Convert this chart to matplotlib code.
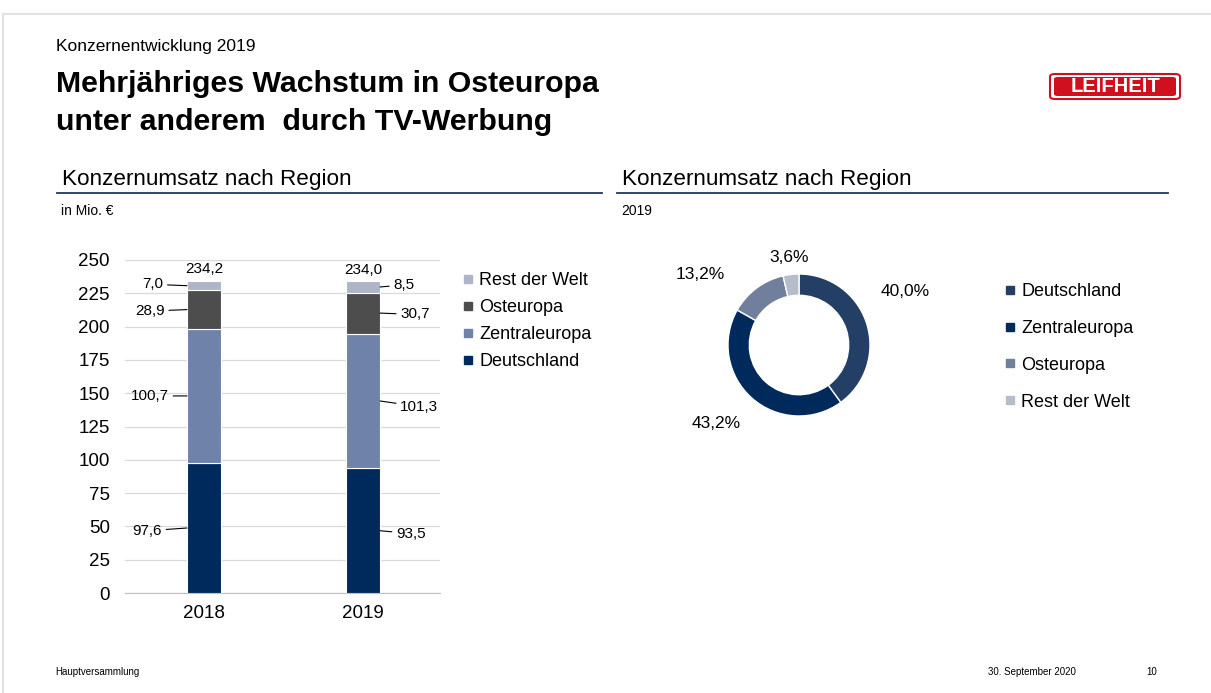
import numpy as np
import matplotlib.pyplot as plt
from matplotlib.lines import Line2D
from matplotlib.patches import FancyBboxPatch

plt.rcParams['font.family'] = ['Liberation Sans', 'DejaVu Sans']

# data
years = ['2018', '2019']
deutschland = [97.6, 93.5]
zentraleuropa = [100.7, 101.3]
osteuropa = [28.9, 30.7]
rest_welt = [7.0, 8.5]
totals = ['234,2', '234,0']

pie_labels = ['Deutschland', 'Zentraleuropa', 'Osteuropa', 'Rest der Welt']
pie_values = [40.0, 43.2, 13.2, 3.6]

bar_colors = {'Deutschland': '#002A5C', 'Zentraleuropa': '#6F82AA',
              'Osteuropa': '#4D4D4D', 'Rest der Welt': '#AEB5C8'}
pie_colors = ['#243F66', '#002A5C', '#6F7F9C', '#B6BCCA']

W, H = 1211, 693
fig = plt.figure(figsize=(W / 100, H / 100), dpi=100)

def fx(px):
    return px / W

def fy(py):
    return 1 - py / H

# slide frame
fig.add_artist(Line2D([fx(3), 1], [fy(14), fy(14)], color='#E3E3E3', lw=1.5))
fig.add_artist(Line2D([fx(3), fx(3)], [fy(14), 0], color='#E3E3E3', lw=1.5))

# titles
fig.text(fx(56), fy(46), 'Konzernentwicklung 2019', fontsize=12.5, va='center')
fig.text(fx(56), fy(84), 'Mehrjähriges Wachstum in Osteuropa', fontsize=21.8,
         fontweight='bold', va='center')
fig.text(fx(56), fy(122), 'unter anderem  durch TV-Werbung', fontsize=21.8,
         fontweight='bold', va='center')

for x0, x1, sub in [(57, 602, 'in Mio. €'), (617, 1168, '2019')]:
    fig.text(fx(x0 + 5), fy(179), 'Konzernumsatz nach Region', fontsize=16.2, va='center')
    fig.add_artist(Line2D([fx(x0), fx(x1)], [fy(193), fy(193)], color='#1F3864', lw=1.3))
    fig.text(fx(x0 + 4), fy(211), sub, fontsize=10, va='center')

# footer
fig.text(fx(55), fy(672), 'Hauptversammlung', fontsize=7, va='center')
fig.text(fx(988), fy(672), '30. September 2020', fontsize=7, va='center')
fig.text(fx(1146), fy(672), '10', fontsize=7, va='center')

# logo
red = '#D0101E'
fig.add_artist(FancyBboxPatch((fx(1050), fy(99)), fx(130), 25 / H,
                              boxstyle='round,pad=0,rounding_size=0.004',
                              fc='white', ec=red, lw=1.5, transform=fig.transFigure))
fig.add_artist(FancyBboxPatch((fx(1054), fy(96)), fx(122), 19 / H,
                              boxstyle='round,pad=0,rounding_size=0.003',
                              fc=red, ec='none', transform=fig.transFigure))
fig.text(fx(1115), fy(86.5), 'LEIFHEIT', color='white', fontsize=14.5,
         fontweight='heavy', ha='center', va='center')

# stacked bars
ax = fig.add_axes([fx(125), fy(593), fx(440) - fx(125), fy(260) - fy(593)])
x = np.arange(len(years))
bw = 0.214
series = [('Deutschland', deutschland), ('Zentraleuropa', zentraleuropa),
          ('Osteuropa', osteuropa), ('Rest der Welt', rest_welt)]
# leader line offsets (points) per segment: 2018 to the left, 2019 to the right
label_dx = [[-18, 11.5], [-13, 14.5], [-16, 14.5], [-17, 9.5]]
label_dy = [[-2, -2], [0, -4], [-1, -1], [1, 1.5]]
bottom = np.zeros(len(years))
for k, (name, vals) in enumerate(series):
    vals = np.array(vals)
    ax.bar(x, vals, bw, bottom=bottom, color=bar_colors[name],
           edgecolor='white', linewidth=0.8, zorder=3)
    for i in range(len(years)):
        mid = bottom[i] + vals[i] / 2
        dx = label_dx[k][i]
        edge = x[i] + np.sign(dx) * bw / 2
        txt = f'{vals[i]:.1f}'.replace('.', ',')
        ax.annotate(txt, xy=(edge, mid), xytext=(dx, label_dy[k][i]),
                    textcoords='offset points', ha='right' if dx < 0 else 'left',
                    va='center', fontsize=11,
                    arrowprops=dict(arrowstyle='-', color='black', lw=0.8,
                                    shrinkA=1, shrinkB=0))
    bottom += vals
for i in range(len(years)):
    ax.text(x[i], bottom[i] + 3.5, totals[i], ha='center', va='bottom', fontsize=11)

ax.set_ylim(0, 250)
ax.set_xlim(-0.497, 1.484)
ax.set_yticks(np.arange(0, 251, 25))
ax.set_xticks(x, years)
ax.tick_params(length=0, labelsize=13.5)
ax.tick_params(axis='x', pad=9)
ax.tick_params(axis='y', pad=11)
ax.grid(axis='y', color='#D9D9D9', lw=0.9, zorder=0)
for s in ['top', 'right', 'left']:
    ax.spines[s].set_visible(False)
ax.spines['bottom'].set_color('#BFBFBF')

handles = [Line2D([], [], marker='s', ls='', ms=6, color=bar_colors[n])
           for n, _ in reversed(series)]
fig.legend(handles, [n for n, _ in reversed(series)], loc='upper left',
           bbox_to_anchor=(fx(462), fy(272)), frameon=False, fontsize=13,
           handlelength=0.7, handletextpad=0.25, labelspacing=0.56, borderpad=0,
           borderaxespad=0)

# donut
r = 71
pax = fig.add_axes([fx(799 - r), fy(345 + r), 2 * r / W, 2 * r / H])
wedges, _ = pax.pie(pie_values, colors=pie_colors, startangle=90, counterclock=False,
                    radius=1, wedgeprops=dict(width=0.3, edgecolor='white', linewidth=1))
pax.set_xlim(-1, 1)
pax.set_ylim(-1, 1)
label_pos = [(1.49, 0.75), (-1.17, -1.10), (-1.39, 0.99), (-0.14, 1.23)]
for v, (lx, ly) in zip(pie_values, label_pos):
    pax.text(lx, ly, f'{v:.1f}%'.replace('.', ','), ha='center', va='center',
             fontsize=12.5, clip_on=False)

phandles = [Line2D([], [], marker='s', ls='', ms=6, color=c) for c in pie_colors]
fig.legend(phandles, pie_labels, loc='upper left',
           bbox_to_anchor=(fx(1004), fy(283)), frameon=False, fontsize=13,
           handlelength=0.7, handletextpad=0.25, labelspacing=1.1, borderpad=0,
           borderaxespad=0)

fig.savefig('out.png', dpi=100)
